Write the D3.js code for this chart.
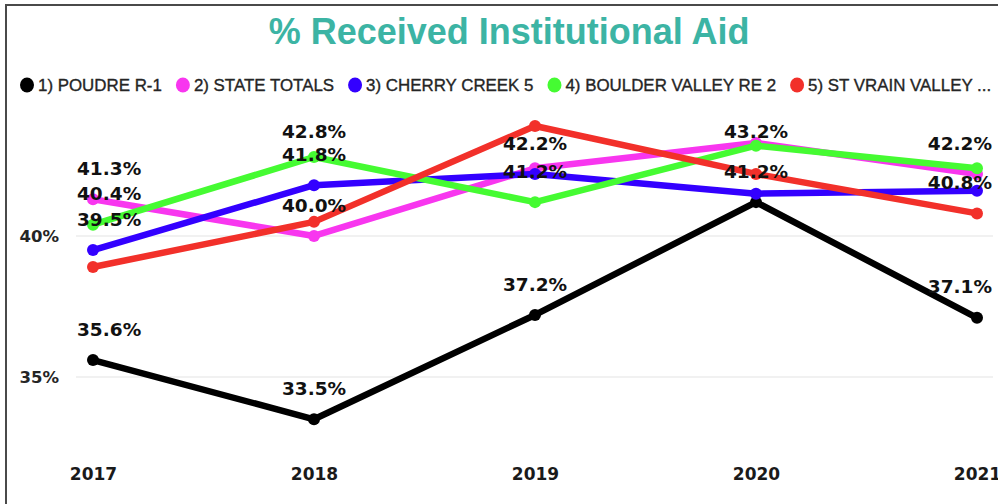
<!DOCTYPE html>
<html>
<head>
<meta charset="utf-8">
<script src="https://cdn.jsdelivr.net/npm/d3@7"></script>
<style>
  html, body { margin: 0; padding: 0; background: #fff; overflow: hidden; }
  svg { display: block; }
</style>
</head>
<body>
<svg id="chart" width="998" height="504"></svg>
<script>
// Years on the x axis
const years = ["2017", "2018", "2019", "2020", "2021"];

// Series names (legend order = drawing order)
const seriesNames = ["1) POUDRE R-1", "2) STATE TOTALS", "3) CHERRY CREEK 5", "4) BOULDER VALLEY RE 2", "5) ST VRAIN VALLEY ..."];
const seriesColors = ["#000000", "#f836ef", "#3300ff", "#45fb32", "#f2302a"];

// Percent receiving institutional aid, per series
const poudre   = [35.6, 33.5, 37.2, 41.2, 37.1];
const state    = [41.3, 40.0, 42.4, 43.3, 42.2];
const cherry   = [39.5, 41.8, 42.2, 41.5, 41.6];
const boulder  = [40.4, 42.8, 41.2, 43.2, 42.4];
const stVrain  = [38.9, 40.5, 43.9, 42.2, 40.8];

// Which points carry a data label (1 = shown)
const poudreLabels  = [1, 1, 1, 1, 1];
const stateLabels   = [1, 1, 0, 0, 1];
const cherryLabels  = [1, 1, 1, 0, 0];
const boulderLabels = [1, 1, 1, 1, 0];
const stVrainLabels = [0, 0, 0, 0, 1];

// Y axis tick values
const yTicks = [35, 40];

const seriesValues = [poudre, state, cherry, boulder, stVrain];
const seriesLabelFlags = [poudreLabels, stateLabels, cherryLabels, boulderLabels, stVrainLabels];

const svg = d3.select("#chart");

// Card frame
svg.append("rect")
  .attr("x", 6).attr("y", 5)
  .attr("width", 1100).attr("height", 600)
  .attr("fill", "#fff")
  .attr("stroke", "#4a4a4a")
  .attr("stroke-width", 2);

// Title
svg.append("text")
  .attr("x", 509).attr("y", 44)
  .attr("text-anchor", "middle")
  .attr("font-family", "'Liberation Sans', Arial, sans-serif")
  .attr("font-weight", 700)
  .attr("font-size", 36)
  .attr("fill", "#3cb4a4")
  .text("% Received Institutional Aid");

// Legend
const legend = svg.append("g").attr("class", "legend");
let lx = 27;
seriesNames.forEach((name, i) => {
  legend.append("ellipse")
    .attr("cx", lx).attr("cy", 85)
    .attr("rx", 7).attr("ry", 7.5)
    .attr("fill", seriesColors[i]);
  const t = legend.append("text")
    .attr("x", lx + 11).attr("y", 91)
    .attr("font-family", "'Liberation Sans', Arial, sans-serif")
    .attr("font-size", 16.9)
    .attr("fill", "#252525")
    .attr("stroke", "#252525")
    .attr("stroke-width", 0.35)
    .text(name);
  lx += 11 + t.node().getComputedTextLength() + 21;
});

// Scales
const x = d3.scalePoint().domain(years).range([93, 977]);
const y = d3.scaleLinear().domain([32, 44.3]).range([461.6, 114.7]);

// Gridlines
svg.append("g").selectAll("line")
  .data(yTicks)
  .join("line")
  .attr("x1", 76).attr("x2", 993)
  .attr("y1", d => y(d)).attr("y2", d => y(d))
  .attr("stroke", "#ececec")
  .attr("stroke-width", 1.5);

// Y axis labels
const yAxis = d3.axisLeft(y).tickValues(yTicks).tickFormat(d => d + "%").tickSize(0).tickPadding(0);
const yg = svg.append("g").attr("transform", "translate(59,0)").call(yAxis);
yg.select(".domain").remove();
yg.selectAll("text")
  .attr("font-family", "'DejaVu Sans', sans-serif")
  .attr("font-weight", 700)
  .attr("font-size", 16.5)
  .attr("fill", "#252525");

// X axis labels
const xAxis = d3.axisBottom(x).tickSize(0).tickPadding(0);
const xg = svg.append("g").attr("transform", "translate(0,468)").call(xAxis);
xg.select(".domain").remove();
xg.selectAll("text")
  .attr("font-family", "'DejaVu Sans', sans-serif")
  .attr("font-weight", 700)
  .attr("font-size", 17)
  .attr("fill", "#1a1a1a");

// Lines and markers
const line = d3.line().x((d, i) => x(years[i])).y(d => y(d));
const plot = svg.append("g");
seriesValues.forEach((vals, s) => {
  plot.append("path")
    .datum(vals)
    .attr("d", line)
    .attr("fill", "none")
    .attr("stroke", seriesColors[s])
    .attr("stroke-width", 6.5)
    .attr("stroke-linejoin", "round")
    .attr("stroke-linecap", "round");
  plot.append("g").selectAll("circle")
    .data(vals)
    .join("circle")
    .attr("cx", (d, i) => x(years[i]))
    .attr("cy", d => y(d))
    .attr("r", 6)
    .attr("fill", seriesColors[s]);
});

// Data labels
const labels = svg.append("g");
seriesValues.forEach((vals, s) => {
  vals.forEach((v, i) => {
    if (!seriesLabelFlags[s][i]) return;
    const center = Math.max(y(v) - 31, 131);
    const t = labels.append("text")
      .attr("y", center + 6.7)
      .attr("font-family", "'DejaVu Sans', sans-serif")
      .attr("font-weight", 700)
      .attr("font-size", 18.5)
      .attr("fill", "#111")
      .text(v.toFixed(1) + "%");
    const w = t.node().getComputedTextLength();
    let left = x(years[i]) - w / 2;
    left = Math.max(77, Math.min(992 - w, left));
    t.attr("x", left);
  });
});
</script>
</body>
</html>
